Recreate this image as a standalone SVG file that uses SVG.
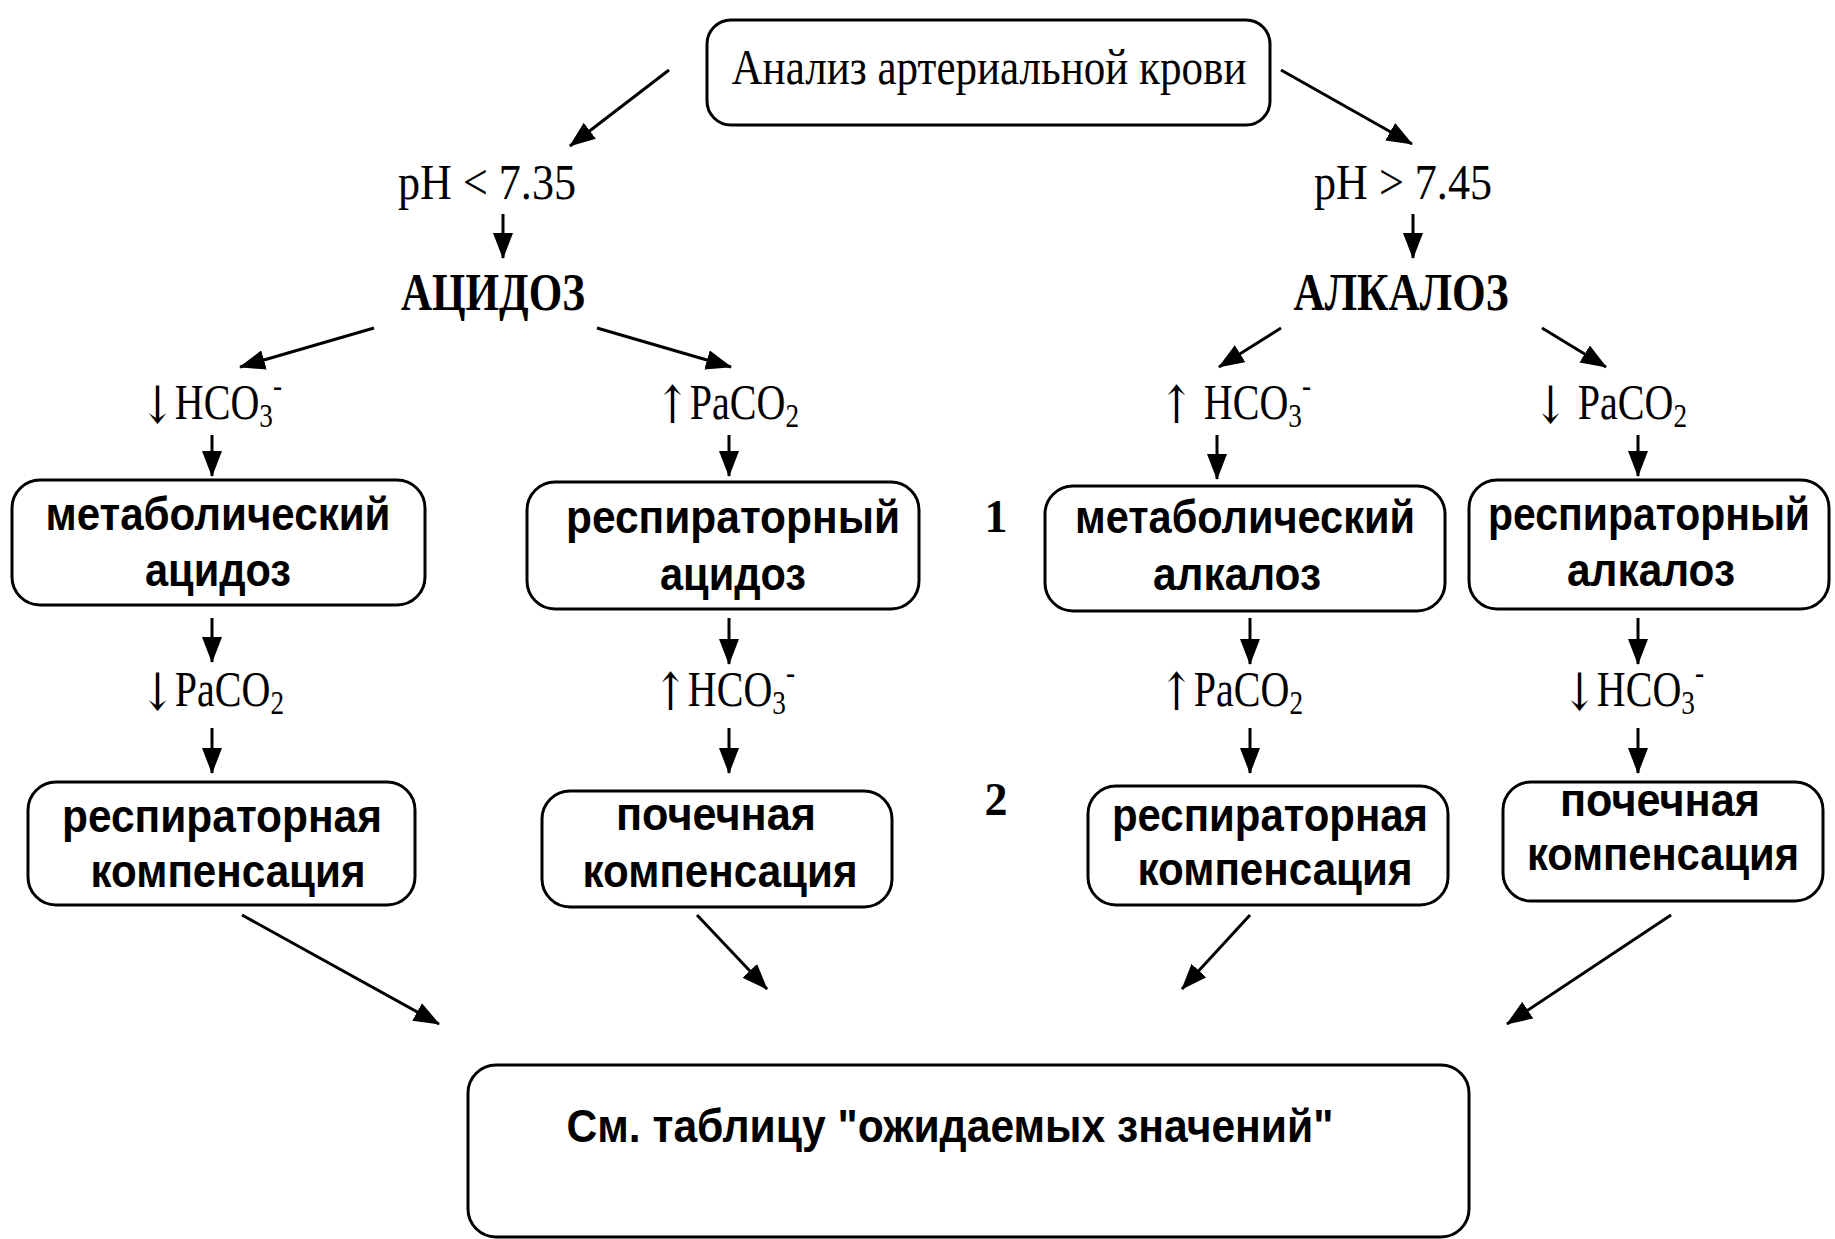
<svg xmlns="http://www.w3.org/2000/svg" width="1835" height="1239" viewBox="0 0 1835 1239">
<style>
.box{fill:#fff;stroke:#000;stroke-width:3}
.ser{font-family:"Liberation Serif","Times New Roman",serif;fill:#000}
.lbl{font-family:"Liberation Serif","Times New Roman",serif;font-size:50px;fill:#000}
.ar{font-family:"DejaVu Serif","DejaVu Sans",serif;font-size:52px}
.sb{font-size:34px}
.bt{font-family:"Liberation Sans",Arial,sans-serif;font-weight:bold;font-size:46px;fill:#000;text-anchor:middle}
.ln{stroke:#000;stroke-width:3;fill:none}
</style>
<defs>
<marker id="ah" viewBox="0 0 26 20" refX="25" refY="10" markerWidth="26" markerHeight="20" markerUnits="userSpaceOnUse" orient="auto">
<path d="M0,0 L26,10 L0,20 Z" fill="#000"/>
</marker>
</defs>
<rect width="1835" height="1239" fill="#fff"/>

<g id="connectors">
<line class="ln" x1="669" y1="70" x2="570" y2="146" marker-end="url(#ah)"/>
<line class="ln" x1="1281" y1="70" x2="1412" y2="144" marker-end="url(#ah)"/>
<line class="ln" x1="503" y1="214" x2="503" y2="258" marker-end="url(#ah)"/>
<line class="ln" x1="1413" y1="214" x2="1413" y2="258" marker-end="url(#ah)"/>
<line class="ln" x1="374" y1="328" x2="240" y2="367" marker-end="url(#ah)"/>
<line class="ln" x1="597" y1="328" x2="731" y2="367" marker-end="url(#ah)"/>
<line class="ln" x1="1281" y1="328" x2="1219" y2="367" marker-end="url(#ah)"/>
<line class="ln" x1="1542" y1="328" x2="1606" y2="367" marker-end="url(#ah)"/>
<line class="ln" x1="212" y1="435" x2="212" y2="476" marker-end="url(#ah)"/>
<line class="ln" x1="729" y1="435" x2="729" y2="476" marker-end="url(#ah)"/>
<line class="ln" x1="1217" y1="435" x2="1217" y2="479" marker-end="url(#ah)"/>
<line class="ln" x1="1638" y1="435" x2="1638" y2="476" marker-end="url(#ah)"/>
<line class="ln" x1="212" y1="618" x2="212" y2="662" marker-end="url(#ah)"/>
<line class="ln" x1="729" y1="618" x2="729" y2="664" marker-end="url(#ah)"/>
<line class="ln" x1="1250" y1="618" x2="1250" y2="664" marker-end="url(#ah)"/>
<line class="ln" x1="1638" y1="618" x2="1638" y2="664" marker-end="url(#ah)"/>
<line class="ln" x1="212" y1="728" x2="212" y2="773" marker-end="url(#ah)"/>
<line class="ln" x1="729" y1="728" x2="729" y2="773" marker-end="url(#ah)"/>
<line class="ln" x1="1250" y1="728" x2="1250" y2="773" marker-end="url(#ah)"/>
<line class="ln" x1="1638" y1="728" x2="1638" y2="773" marker-end="url(#ah)"/>
<line class="ln" x1="242" y1="915" x2="439" y2="1024" marker-end="url(#ah)"/>
<line class="ln" x1="697" y1="915" x2="767" y2="989" marker-end="url(#ah)"/>
<line class="ln" x1="1250" y1="915" x2="1182" y2="989" marker-end="url(#ah)"/>
<line class="ln" x1="1671" y1="915" x2="1507" y2="1024" marker-end="url(#ah)"/>
</g>

<g id="n-top">
<rect class="box" x="707" y="20" width="563" height="105" rx="24"/>
<text class="ser" x="989" y="84" font-size="50" text-anchor="middle" textLength="515" lengthAdjust="spacingAndGlyphs">Анализ артериальной крови</text>
</g>

<g id="n-ph-low"><text class="ser" x="487" y="199" font-size="50" text-anchor="middle" textLength="178" lengthAdjust="spacingAndGlyphs">pH &lt; 7.35</text></g>
<g id="n-ph-high"><text class="ser" x="1403" y="199" font-size="50" text-anchor="middle" textLength="178" lengthAdjust="spacingAndGlyphs">pH &gt; 7.45</text></g>

<g id="n-acidosis"><text class="ser" x="493" y="310" font-size="52" font-weight="bold" text-anchor="middle" textLength="184" lengthAdjust="spacingAndGlyphs">АЦИДОЗ</text></g>
<g id="n-alkalosis"><text class="ser" x="1401" y="310" font-size="52" font-weight="bold" text-anchor="middle" textLength="215" lengthAdjust="spacingAndGlyphs">АЛКАЛОЗ</text></g>

<g id="l-hco3-down" transform="translate(140,419) scale(0.8,1)"><text class="lbl"><tspan class="ar" dy="4">↓</tspan><tspan dy="-4">HCO</tspan><tspan class="sb" dy="8">3</tspan><tspan class="sb" dy="-30">-</tspan></text></g>
<g id="l-paco2-up" transform="translate(655,419) scale(0.8,1)"><text class="lbl"><tspan class="ar" dy="4">↑</tspan><tspan dy="-4">PaCO</tspan><tspan class="sb" dy="8">2</tspan></text></g>
<g id="l-hco3-up" transform="translate(1159,419) scale(0.8,1)"><text class="lbl"><tspan class="ar" dy="4">↑</tspan><tspan dy="-4"> HCO</tspan><tspan class="sb" dy="8">3</tspan><tspan class="sb" dy="-30">-</tspan></text></g>
<g id="l-paco2-down" transform="translate(1533,419) scale(0.8,1)"><text class="lbl"><tspan class="ar" dy="4">↓</tspan><tspan dy="-4">  PaCO</tspan><tspan class="sb" dy="8">2</tspan></text></g>

<g id="n-met-acid">
<rect class="box" x="12" y="480" width="413" height="125" rx="28"/>
<text class="bt" x="218" y="530" textLength="345" lengthAdjust="spacingAndGlyphs">метаболический</text>
<text class="bt" x="218" y="586" textLength="146" lengthAdjust="spacingAndGlyphs">ацидоз</text>
</g>
<g id="n-resp-acid">
<rect class="box" x="527" y="482" width="392" height="127" rx="28"/>
<text class="bt" x="733" y="533" textLength="334" lengthAdjust="spacingAndGlyphs">респираторный</text>
<text class="bt" x="733" y="590" textLength="146" lengthAdjust="spacingAndGlyphs">ацидоз</text>
</g>
<g id="n-num1"><text class="ser" x="996" y="532" font-size="46" font-weight="bold" text-anchor="middle">1</text></g>
<g id="n-met-alk">
<rect class="box" x="1045" y="486" width="400" height="125" rx="28"/>
<text class="bt" x="1245" y="533" textLength="340" lengthAdjust="spacingAndGlyphs">метаболический</text>
<text class="bt" x="1237" y="590" textLength="168" lengthAdjust="spacingAndGlyphs">алкалоз</text>
</g>
<g id="n-resp-alk">
<rect class="box" x="1469" y="480" width="360" height="129" rx="28"/>
<text class="bt" x="1649" y="530" textLength="322" lengthAdjust="spacingAndGlyphs">респираторный</text>
<text class="bt" x="1651" y="586" textLength="168" lengthAdjust="spacingAndGlyphs">алкалоз</text>
</g>

<g id="l2-paco2-down" transform="translate(140,706) scale(0.8,1)"><text class="lbl"><tspan class="ar" dy="4">↓</tspan><tspan dy="-4">PaCO</tspan><tspan class="sb" dy="8">2</tspan></text></g>
<g id="l2-hco3-up" transform="translate(653,706) scale(0.8,1)"><text class="lbl"><tspan class="ar" dy="4">↑</tspan><tspan dy="-4">HCO</tspan><tspan class="sb" dy="8">3</tspan><tspan class="sb" dy="-30">-</tspan></text></g>
<g id="l2-paco2-up" transform="translate(1159,706) scale(0.8,1)"><text class="lbl"><tspan class="ar" dy="4">↑</tspan><tspan dy="-4">PaCO</tspan><tspan class="sb" dy="8">2</tspan></text></g>
<g id="l2-hco3-down" transform="translate(1562,706) scale(0.8,1)"><text class="lbl"><tspan class="ar" dy="4">↓</tspan><tspan dy="-4">HCO</tspan><tspan class="sb" dy="8">3</tspan><tspan class="sb" dy="-30">-</tspan></text></g>

<g id="n-resp-comp-l">
<rect class="box" x="28" y="782" width="387" height="123" rx="28"/>
<text class="bt" x="222" y="832" textLength="320" lengthAdjust="spacingAndGlyphs">респираторная</text>
<text class="bt" x="228" y="887" textLength="275" lengthAdjust="spacingAndGlyphs">компенсация</text>
</g>
<g id="n-kid-comp-l">
<rect class="box" x="542" y="791" width="350" height="116" rx="28"/>
<text class="bt" x="716" y="830" textLength="200" lengthAdjust="spacingAndGlyphs">почечная</text>
<text class="bt" x="720" y="887" textLength="275" lengthAdjust="spacingAndGlyphs">компенсация</text>
</g>
<g id="n-num2"><text class="ser" x="996" y="815" font-size="46" font-weight="bold" text-anchor="middle">2</text></g>
<g id="n-resp-comp-r">
<rect class="box" x="1088" y="786" width="360" height="119" rx="28"/>
<text class="bt" x="1270" y="831" textLength="316" lengthAdjust="spacingAndGlyphs">респираторная</text>
<text class="bt" x="1275" y="885" textLength="275" lengthAdjust="spacingAndGlyphs">компенсация</text>
</g>
<g id="n-kid-comp-r">
<rect class="box" x="1503" y="782" width="320" height="119" rx="28"/>
<text class="bt" x="1660" y="816" textLength="200" lengthAdjust="spacingAndGlyphs">почечная</text>
<text class="bt" x="1663" y="870" textLength="272" lengthAdjust="spacingAndGlyphs">компенсация</text>
</g>

<g id="n-table">
<rect class="box" x="468" y="1065" width="1001" height="172" rx="28"/>
<text class="bt" x="950" y="1142" textLength="767" lengthAdjust="spacingAndGlyphs">См. таблицу "ожидаемых значений"</text>
</g>
</svg>
